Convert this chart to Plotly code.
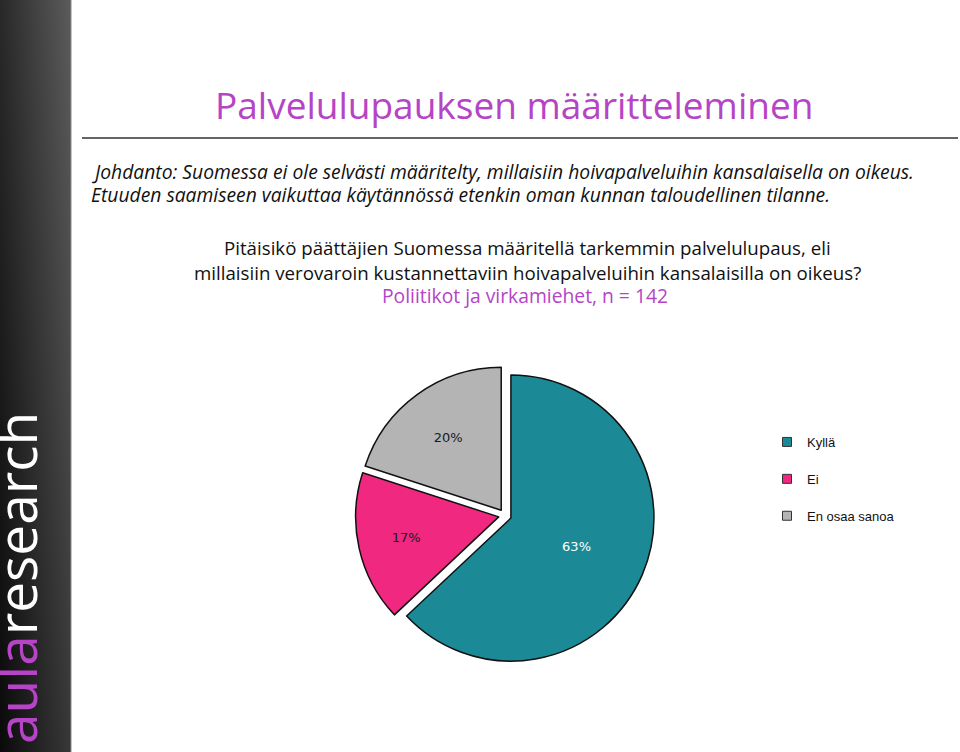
import plotly.graph_objects as go

W, H = 960, 752

# ---- data ----
categories = ["Kyllä", "Ei", "En osaa sanoa"]
values = [63, 17, 20]
colors = ["#1b8a96", "#f0287f", "#b4b4b4"]
label_colors = ["#ffffff", "#1a1a1a", "#1a1a1a"]

title_text = "Palvelulupauksen määritteleminen"
intro_lines = [
    "Johdanto: Suomessa ei ole selvästi määritelty, millaisiin hoivapalveluihin kansalaisella on oikeus.",
    "Etuuden saamiseen vaikuttaa käytännössä etenkin oman kunnan taloudellinen tilanne.",
]
question_lines = [
    "Pitäisikö päättäjien Suomessa määritellä tarkemmin palvelulupaus, eli",
    "millaisiin verovaroin kustannettaviin hoivapalveluihin kansalaisilla on oikeus?",
]
sample_text = "Poliitikot ja virkamiehet, n = 142"

MAGENTA = "#b544c6"


def px(x):
    return x / W


def py(y):
    return 1 - y / H


fig = go.Figure()

# sidebar gradient background
fig.add_trace(go.Heatmap(
    z=[[0.04, 0.22], [0.16, 0.36]], x=[0, 1], y=[0, 1],
    colorscale=[[0, "#000000"], [1, "#ffffff"]], zmin=0, zmax=1,
    zsmooth="best", showscale=False, hoverinfo="skip",
    xaxis="x2", yaxis="y2",
))

# pie
fig.add_trace(go.Pie(
    labels=categories, values=values, sort=False, direction="clockwise",
    rotation=0, pull=[0.045] * len(values),
    marker=dict(colors=colors, line=dict(color="#111111", width=1.5)),
    texttemplate="%{value}%", textposition="inside",
    insidetextorientation="horizontal",
    textfont=dict(family="DejaVu Sans", size=13, color=label_colors),
    showlegend=False, hoverinfo="label+percent",
    domain=dict(x=[px(355.5), px(654.5)], y=[py(665), py(366)]),
))

# legend entries
for i, (c, col) in enumerate(zip(categories, colors)):
    fig.add_trace(go.Scatter(
        x=[None], y=[None], mode="markers", name=c, legendgroup=str(i),
        marker=dict(symbol="square", size=9, color=col, line=dict(color="#333333", width=1)),
        xaxis="x2", yaxis="y2",
    ))

annotations = [
    dict(text=title_text, x=px(514), y=py(104), xanchor="center", yanchor="middle",
         font=dict(family="Open Sans", size=37, color=MAGENTA)),
]
for i, line in enumerate(intro_lines):
    annotations.append(dict(text=f"<i>{line}</i>", x=px(89), y=py(172 + 22 * i),
                            xanchor="left", yanchor="middle",
                            font=dict(family="Open Sans", size=19.3, color="#111111")))
for i, line in enumerate(question_lines):
    annotations.append(dict(text=line, x=px(527), y=py(248 + 24 * i),
                            xanchor="center", yanchor="middle",
                            font=dict(family="Open Sans", size=18.7, color="#111111")))
annotations.append(dict(text=sample_text, x=px(525), y=py(296),
                        xanchor="center", yanchor="middle",
                        font=dict(family="Open Sans", size=19.3, color=MAGENTA)))
annotations.append(dict(
    text=f"<span style='color:{MAGENTA}'>aula</span>research",
    x=px(15), y=py(410), xanchor="center", yanchor="top", textangle=-90,
    font=dict(family="Open Sans", size=55, color="#ffffff"),
))
for a in annotations:
    a.update(xref="paper", yref="paper", showarrow=False)

fig.update_layout(
    width=W, height=H, margin=dict(l=0, r=0, t=0, b=0),
    paper_bgcolor="white", plot_bgcolor="white",
    xaxis2=dict(domain=[0, px(71)], range=[0, 1], visible=False, fixedrange=True),
    yaxis2=dict(domain=[0, 1], range=[0, 1], visible=False, fixedrange=True),
    xaxis=dict(visible=False), yaxis=dict(visible=False),
    legend=dict(x=px(767), y=py(427), xanchor="left", yanchor="top",
                font=dict(family="Liberation Sans", size=13, color="#111111"),
                tracegroupgap=17, itemwidth=30, bgcolor="rgba(0,0,0,0)"),
    annotations=annotations,
    shapes=[
        dict(type="line", xref="paper", yref="paper", x0=px(82), x1=px(958),
             y0=py(138), y1=py(138), line=dict(color="#333333", width=1.5)),
        dict(type="line", xref="paper", yref="paper", x0=px(71), x1=px(71),
             y0=0, y1=1, line=dict(color="#8a8a8a", width=1)),
    ],
)

fig.write_html("out.html")
